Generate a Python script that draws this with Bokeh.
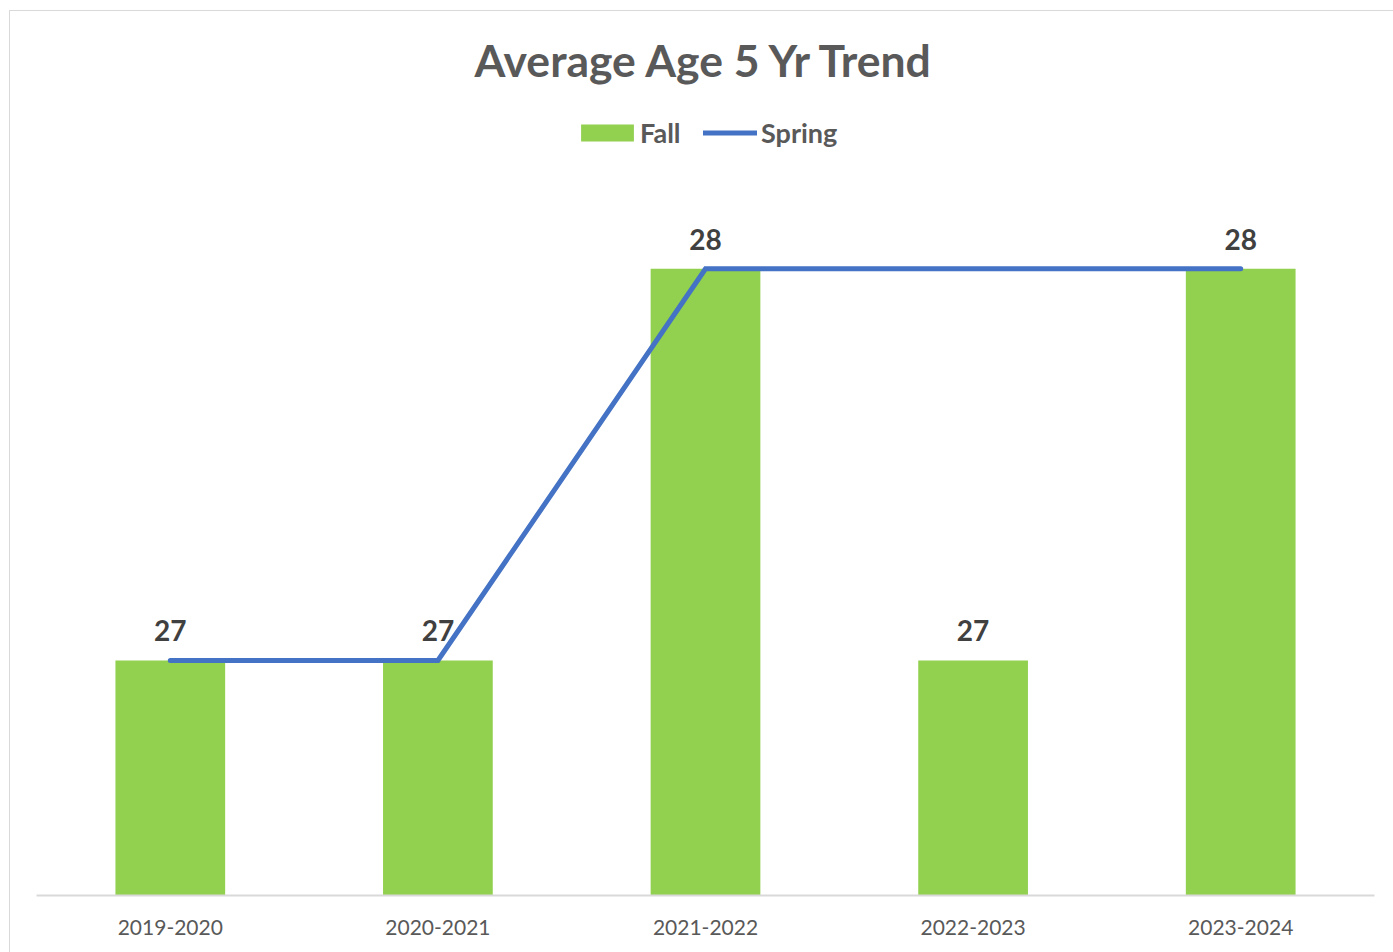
from bokeh.plotting import figure
from bokeh.models import ColumnDataSource, LabelSet, Label, Legend, LegendItem, Range1d, FactorRange
from bokeh.core.properties import value
from bokeh.embed import file_html
from bokeh.resources import INLINE

years = ["2019-2020", "2020-2021", "2021-2022", "2022-2023", "2023-2024"]
fall = [27, 27, 28, 27, 28]
spring = [27, 27, 28, 28, 28]
fall_labels = ["27", "27", "28", "27", "28"]
title_text = "Average Age 5 Yr Trend"

src = ColumnDataSource(dict(x=years, fall=fall, spring=spring, lab=fall_labels))

Y0 = 26.4
p = figure(width=1384, height=942, x_range=FactorRange(*years, range_padding=0),
           y_range=Range1d(Y0, 28.657), output_backend="svg", toolbar_location=None,
           min_border_left=26, min_border_right=20, min_border_top=0, min_border_bottom=58)
p.styles = {"margin-left": "9px", "margin-top": "10px",
            "border-left": "1px solid #d9d9d9", "border-top": "1px solid #d9d9d9"}
p.outline_line_color = None
p.xgrid.visible = False
p.ygrid.visible = False
p.yaxis.visible = False
p.background_fill_color = "white"
p.border_fill_color = "white"

bars = p.vbar(x="x", top="fall", bottom=Y0, width=0.41, source=src,
              fill_color="#92D050", line_color=None)
ln = p.line(x="x", y="spring", source=src, line_color="#4472C4", line_width=5,
            line_cap="round", line_join="miter")

labels = LabelSet(x="x", y="fall", text="lab", source=src, y_offset=19,
                  text_align="center", text_baseline="bottom",
                  text_font=value("Lato"), text_font_style="bold", text_font_size="28px",
                  text_color="#404040")
p.add_layout(labels)

p.xaxis.axis_line_color = "#d9d9d9"
p.xaxis.axis_line_width = 2
p.xaxis.major_tick_line_color = None
p.xaxis.minor_tick_line_color = None
p.xaxis.major_label_standoff = 18
p.xaxis.major_label_text_font = "Lato"
p.xaxis.major_label_text_font_size = "21px"
p.xaxis.major_label_text_color = "#595959"

title = Label(x=2.5, y=28.534, text=title_text, text_align="center", text_baseline="middle",
              text_font="Lato", text_font_style="bold", text_font_size="44.5px",
              text_color="#595959")
p.add_layout(title)

common = dict(orientation="horizontal", label_height=34, padding=0, margin=0,
              label_text_font="Lato", label_text_font_style="bold",
              label_text_font_size="27px", label_text_color="#595959",
              border_line_color=None, background_fill_alpha=0)
legend_fall = Legend(items=[LegendItem(label="Fall", renderers=[bars])],
                     location=(538, 746), glyph_width=66, glyph_height=21,
                     label_standoff=0, **common)
legend_spring = Legend(items=[LegendItem(label="Spring", renderers=[ln])],
                       location=(667, 746), glyph_width=54, glyph_height=21,
                       label_standoff=4, **common)
p.add_layout(legend_fall, "center")
p.add_layout(legend_spring, "center")

open("out.html", "w").write(file_html(p, INLINE))
